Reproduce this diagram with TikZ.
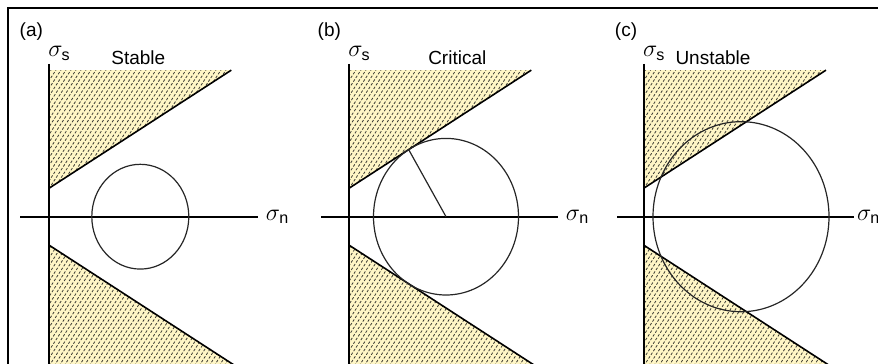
\documentclass[tikz,border=0pt]{standalone}
\usepackage{amsmath}
\usepackage{fontspec}
\setmainfont{Liberation Sans}

\definecolor{wedgeyellow}{HTML}{FFF6C6}
\definecolor{hatchgray}{HTML}{3C3C34}

% shaded failure wedges of one Mohr panel
\newcommand{\mohrwedges}{%
    \fill[wedge] (0,26.5) -- (182,135.7) -- (0,135.7) -- cycle;
    \fill[wedge] (0,-26.5) -- (190,-140.5) -- (0,-140.5) -- cycle;
    \begin{scope}
        \clip (0,26.5) -- (182,135.7) -- (0,135.7) -- cycle
              (0,-26.5) -- (190,-140.5) -- (0,-140.5) -- cycle;
        \foreach \h in {-205,-200,...,195}
            \draw[hatch] (\h,-145) -- ++(55:350);
    \end{scope}
    \draw[edge] (0,26.5) -- (182,135.7);
    \draw[edge] (0,-26.5) -- (190,-140.5);
}

\begin{document}
\begin{tikzpicture}[
        x=0.5pt, y=0.5pt,
        every node/.style={font=\fontsize{9.5}{11}\selectfont},
        sig/.style={font=\fontsize{11.5}{13}\selectfont},
        wedge/.style={fill=wedgeyellow},
        hatch/.style={draw=hatchgray, line width=0.4pt, dash pattern=on 1.3pt off 0.9pt},
        edge/.style={line width=0.8pt},
        axis/.style={line width=1pt},
        mohr/.style={line width=0.6pt, draw=black!85},
        frame/.style={line width=1.1pt}
    ]
    \useasboundingbox (0,0) rectangle (878,364);
    \draw[frame] (8,-5) |- (885,356);

    % (a) stable
    \begin{scope}[shift={(49.3,147.3)}]
        \begin{scope}[yscale=1.08]
            \mohrwedges
            \draw[axis] (0,141.4) -- (0,-140);
            \draw[axis] (-29,0) -- (209,0) node[sig, right] (na) {$\sigma_{\text{n}}$};
            \draw[mohr] (91,0) circle (48.5);
        \end{scope}
        \node[sig, anchor=base west] (sa) at (-8,159.7) {$\sigma_{\text{s}}$};
        \node (la) at (-18,185) {(a)};
        \node[anchor=base] (ta) at (89,151.7) {Stable};
    \end{scope}

    % (b) critical
    \begin{scope}[shift={(349.3,147.3)}]
        \begin{scope}[yscale=1.08]
            \mohrwedges
            \draw[axis] (0,141.4) -- (0,-140);
            \draw[axis] (-28,0) -- (209,0) node[sig, right] (nb) {$\sigma_{\text{n}}$};
            \coordinate (cb) at (96.7,0);
            \draw[mohr] (cb) circle (72.5);
            \draw[mohr] (cb) -- ++(121:72.5) coordinate (tb);
        \end{scope}
        \node[sig, anchor=base west] (sb) at (-8,159.7) {$\sigma_{\text{s}}$};
        \node (lb) at (-20,185) {(b)};
        \node[anchor=base] (tb) at (108,151.7) {Critical};
    \end{scope}

    % (c) unstable
    \begin{scope}[shift={(644,147.3)}]
        \begin{scope}[yscale=1.08]
            \mohrwedges
            \draw[axis] (0,141.4) -- (0,-140);
            \draw[axis] (-27,0) -- (210,0) node[sig, right, inner sep=1pt] (nc) {$\sigma_{\text{n}}$};
            \draw[mohr] (97,0) circle (88);
        \end{scope}
        \node[sig, anchor=base west] (sc) at (-8,159.7) {$\sigma_{\text{s}}$};
        \node (lc) at (-18,185) {(c)};
        \node[anchor=base] (tc) at (69,152.5) {Unstable};
    \end{scope}
\end{tikzpicture}
\end{document}
